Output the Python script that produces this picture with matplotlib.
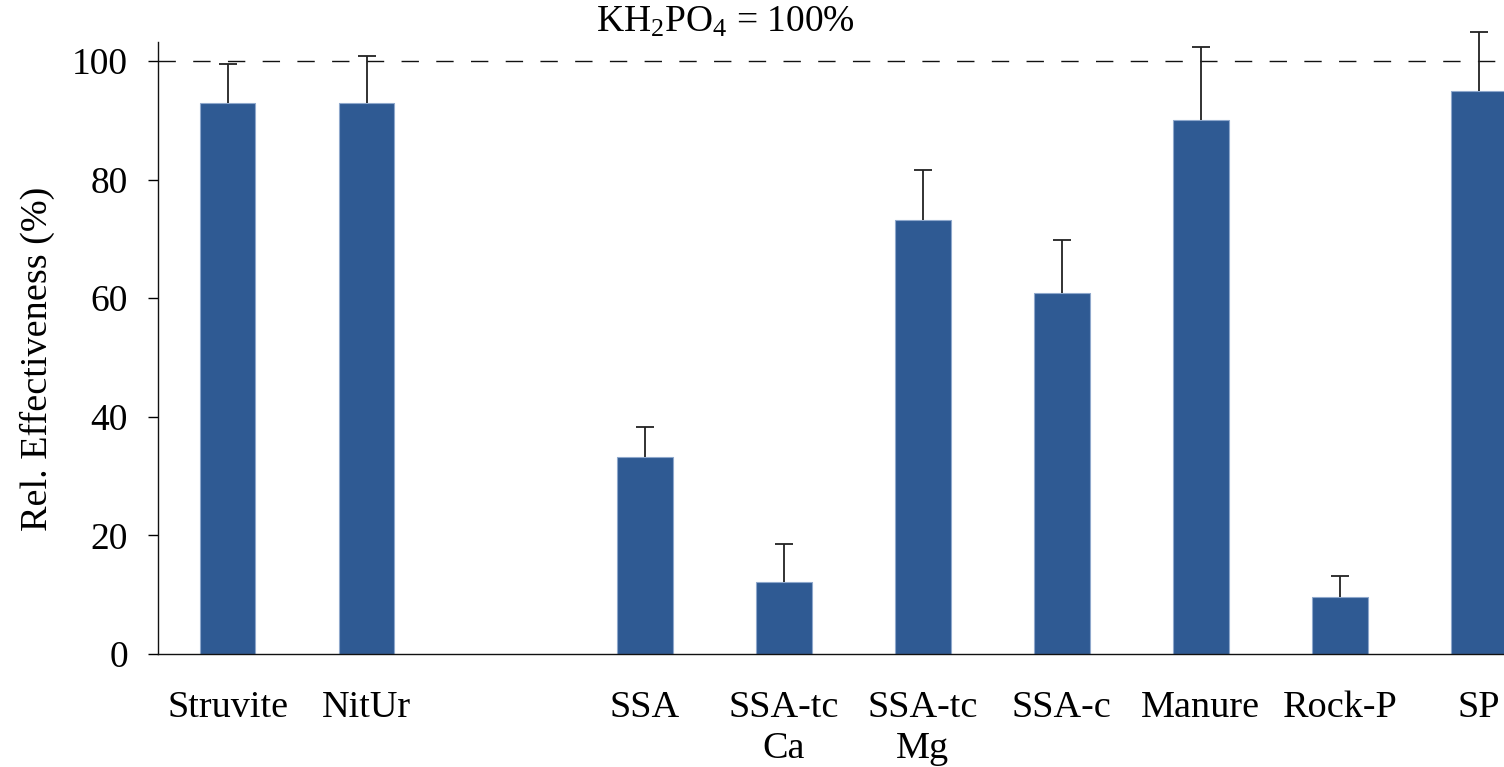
import numpy as np
import matplotlib
matplotlib.use("Agg")
import matplotlib.pyplot as plt

categories = ["Struvite", "NitUr", "", "SSA", "SSA-tc\nCa", "SSA-tc\nMg", "SSA-c", "Manure", "Rock-P", "SP"]
values = [93.0, 93.0, np.nan, 33.3, 12.1, 73.2, 60.9, 90.1, 9.6, 94.9]
errors = [6.5, 7.8, np.nan, 4.9, 6.4, 8.4, 9.0, 12.3, 3.5, 10.0]
yticks = [0, 20, 40, 60, 80, 100]
reference_value = 100

plt.rcParams['font.family'] = ['Liberation Serif', 'DejaVu Serif']
plt.rcParams['mathtext.fontset'] = 'custom'
plt.rcParams['mathtext.rm'] = 'Liberation Serif'
plt.rcParams['mathtext.it'] = 'Liberation Serif:italic'

fig = plt.figure(figsize=(15.04, 7.67), dpi=100)
ax = fig.add_axes([0.1049, 0.1473, 0.8951, 0.7979])

x = np.arange(len(categories))
vals = np.array(values)
errs = np.array(errors)
mask = ~np.isnan(vals)

ax.bar(x[mask], vals[mask], width=0.4, color='#2F5A93', edgecolor='#8FA8CC', linewidth=0.8, zorder=2)
ax.vlines(x[mask], vals[mask], vals[mask] + errs[mask], color='#222222', linewidth=1.3, zorder=3, clip_on=False)
ax.hlines(vals[mask] + errs[mask], x[mask] - 0.065, x[mask] + 0.065, color='#222222', linewidth=1.3, zorder=3, clip_on=False)

ax.axhline(reference_value, color='#111111', linewidth=1.0, dashes=(12.5, 12.5), zorder=1)
ax.text(3.58, 103.6, r'KH$_2$PO$_4$ = 100%', ha='center', va='bottom', fontsize=27)

ax.set_xlim(-0.502, 9.18)
ax.set_ylim(0, 103.2)
ax.set_yticks(yticks)
ax.set_yticklabels([str(t) for t in yticks], fontsize=27)
ax.set_xticks(x[mask])
ax.set_xticklabels([c for c, m in zip(categories, mask) if m], fontsize=27.5, linespacing=1.25, va='top')
ax.tick_params(axis='x', length=0, pad=26)
ax.tick_params(axis='y', length=7.5, width=1.0, direction='out', pad=14)
ax.set_ylabel('Rel. Effectiveness (%)', fontsize=27.5)
ax.yaxis.set_label_coords(-0.0765, 0.482)

for s in ['top', 'right']:
    ax.spines[s].set_visible(False)
for s in ['left', 'bottom']:
    ax.spines[s].set_linewidth(1.0)
    ax.spines[s].set_color('#111111')

fig.savefig('out.png', dpi=100)
